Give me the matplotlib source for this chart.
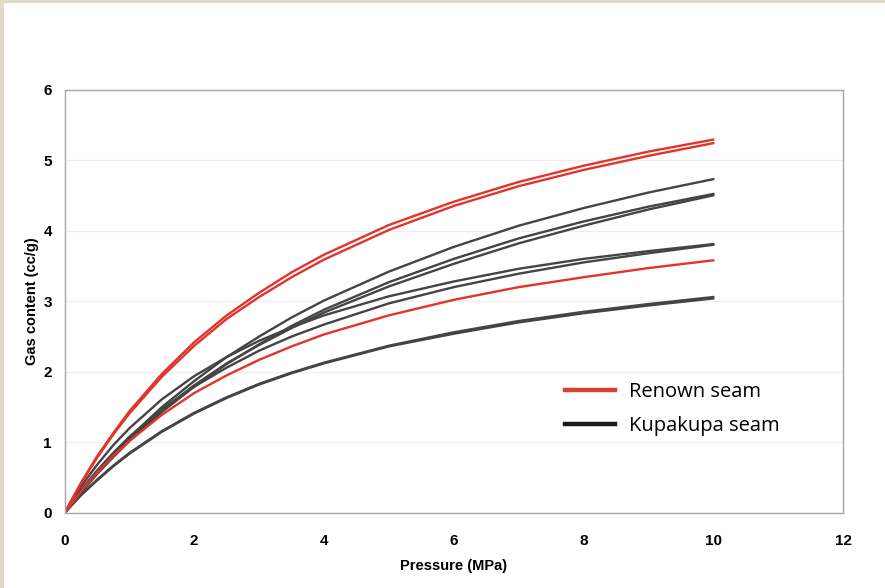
import matplotlib
matplotlib.use("Agg")
import matplotlib.pyplot as plt
from matplotlib.patches import Rectangle

# Pressure steps (MPa)
pressure = [0, 0.25, 0.5, 0.75, 1, 1.5, 2, 2.5, 3, 3.5, 4, 5, 6, 7, 8, 9, 10]

# Renown seam isotherms (cc/g)
renown_1 = [0, 0.42, 0.80, 1.13, 1.44, 1.97, 2.42, 2.80, 3.12, 3.41, 3.66, 4.08, 4.41, 4.69, 4.92, 5.12, 5.29]
renown_2 = [0, 0.41, 0.78, 1.11, 1.41, 1.93, 2.37, 2.75, 3.06, 3.34, 3.59, 4.01, 4.35, 4.63, 4.86, 5.06, 5.24]
renown_3 = [0, 0.30, 0.57, 0.81, 1.02, 1.39, 1.70, 1.95, 2.17, 2.36, 2.53, 2.80, 3.02, 3.20, 3.34, 3.47, 3.58]

# Kupakupa seam isotherms (cc/g)
kupakupa_1 = [0, 0.30, 0.57, 0.83, 1.07, 1.50, 1.87, 2.21, 2.50, 2.77, 3.01, 3.42, 3.77, 4.07, 4.32, 4.54, 4.73]
kupakupa_2 = [0, 0.28, 0.55, 0.79, 1.02, 1.43, 1.79, 2.11, 2.39, 2.65, 2.88, 3.27, 3.60, 3.89, 4.13, 4.34, 4.52]
kupakupa_3 = [0, 0.30, 0.57, 0.82, 1.05, 1.46, 1.81, 2.12, 2.38, 2.62, 2.84, 3.21, 3.53, 3.82, 4.07, 4.30, 4.50]
kupakupa_4 = [0, 0.37, 0.68, 0.96, 1.20, 1.61, 1.94, 2.21, 2.44, 2.63, 2.80, 3.07, 3.28, 3.46, 3.60, 3.71, 3.81]
kupakupa_5 = [0, 0.32, 0.60, 0.85, 1.08, 1.47, 1.79, 2.06, 2.30, 2.50, 2.67, 2.97, 3.20, 3.39, 3.55, 3.68, 3.80]
kupakupa_6 = [0, 0.25, 0.47, 0.67, 0.85, 1.16, 1.42, 1.64, 1.83, 1.99, 2.13, 2.37, 2.56, 2.72, 2.85, 2.96, 3.06]
kupakupa_7 = [0, 0.25, 0.46, 0.66, 0.84, 1.15, 1.41, 1.63, 1.82, 1.98, 2.12, 2.36, 2.54, 2.70, 2.83, 2.94, 3.04]

renown = [renown_1, renown_2, renown_3]
kupakupa = [kupakupa_1, kupakupa_2, kupakupa_3, kupakupa_4,
            kupakupa_5, kupakupa_6, kupakupa_7]

x_ticks = [0, 2, 4, 6, 8, 10, 12]
y_ticks = [0, 1, 2, 3, 4, 5, 6]

RED = "#e3342a"
GREY = "#444444"

fig = plt.figure(figsize=(8.85, 5.88), dpi=100)
fig.patch.set_facecolor("white")

# thin beige frame on the left and top edges
fig.patches.append(Rectangle((0, 0), 4 / 885, 1, transform=fig.transFigure,
                             facecolor="#dfdbc5", edgecolor="none"))
fig.patches.append(Rectangle((0, 1 - 2.5 / 588), 1, 2.5 / 588,
                             transform=fig.transFigure,
                             facecolor="#dfdbc5", edgecolor="none"))

ax = fig.add_axes([64.5 / 885, 75 / 588, (843 - 64.5) / 885, (513 - 89.5) / 588])

for ys in kupakupa:
    ax.plot(pressure, ys, color=GREY, lw=1.7, solid_joinstyle="round")
for ys in renown:
    ax.plot(pressure, ys, color=RED, lw=1.7, solid_joinstyle="round")

ax.set_xlim(0, 12)
ax.set_ylim(0, 6)
ax.set_xticks(x_ticks)
ax.set_yticks(y_ticks)

label_font = {"family": ["Liberation Sans Narrow", "Liberation Sans", "DejaVu Sans"],
              "weight": "bold"}
ax.set_xticklabels([str(t) for t in x_ticks], fontdict=label_font, fontsize=11)
ax.set_yticklabels([str(t) for t in y_ticks], fontdict=label_font, fontsize=11)
ax.tick_params(axis="x", length=0, pad=15)
ax.tick_params(axis="y", length=0, pad=9)

ax.set_xlabel("Pressure (MPa)", fontdict=label_font, fontsize=10.5, labelpad=8)
ax.set_ylabel("Gas content (cc/g)", fontdict=label_font, fontsize=10.5, labelpad=3)

ax.yaxis.grid(True, color="#eeeeee", lw=0.9)
ax.set_axisbelow(True)
for side in ax.spines.values():
    side.set_color("#a6a6a6")
    side.set_linewidth(1.0)

handles = [plt.Line2D([], [], color="#d8432f", lw=3.2),
           plt.Line2D([], [], color="#1a1a1a", lw=3.2)]
fig.legend(handles, ["Renown seam", "Kupakupa seam"],
           loc="upper left", bbox_to_anchor=(565 / 885, 1 - 382 / 588),
           frameon=False, borderpad=0, borderaxespad=0,
           handlelength=2.5, handletextpad=0.7, labelspacing=0.72,
           prop={"family": ["Open Sans", "DejaVu Sans"], "size": 14.5})

fig.savefig("out.png", dpi=100)
